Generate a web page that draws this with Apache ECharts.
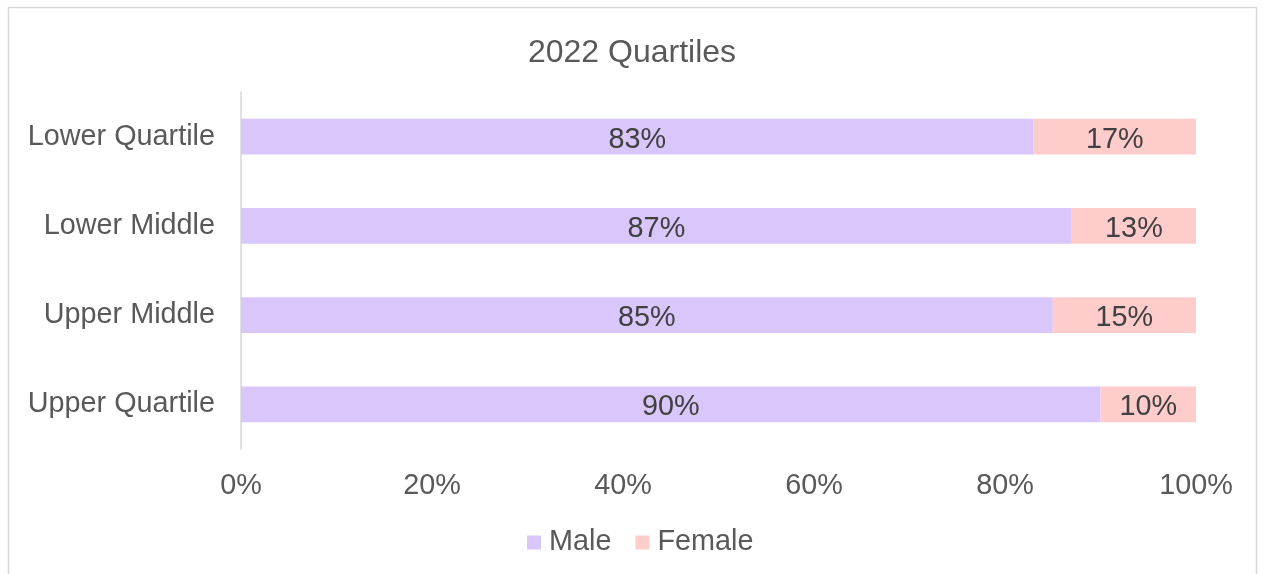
<!DOCTYPE html>
<html>
<head>
<meta charset="utf-8">
<script src="https://cdn.jsdelivr.net/npm/echarts@6/dist/echarts.min.js"></script>
<style>
  html, body { margin: 0; padding: 0; background: #fff; }
  #chart { width: 1264px; height: 574px; }
</style>
</head>
<body>
<div id="chart"></div>
<script>
const categories = ['Lower Quartile', 'Lower Middle', 'Upper Middle', 'Upper Quartile'];
const maleValues = [83, 87, 85, 90];
const femaleValues = [17, 13, 15, 10];
const xTicks = [0, 20, 40, 60, 80, 100];

const chart = echarts.init(document.getElementById('chart'), null, { renderer: 'canvas' });

const textColor = '#595959';
const font = 'Liberation Sans, Arial, sans-serif';
const fs = 28.8;

const option = {
  animation: false,
  textStyle: { fontFamily: font },
  title: {
    text: '2022 Quartiles',
    left: 'center',
    top: 32,
    textStyle: { fontSize: 32, fontWeight: 'normal', color: textColor, fontFamily: font }
  },
  graphic: [{
    type: 'rect',
    shape: { x: 8.5, y: 7.5, width: 1248, height: 600 },
    style: { fill: 'none', stroke: '#d9d9d9', lineWidth: 1.5 },
    silent: true
  }],
  legend: {
    bottom: 12,
    left: 522,
    itemWidth: 14,
    itemHeight: 14,
    itemGap: 24,
    icon: 'rect',
    textStyle: { fontSize: fs, color: textColor, fontFamily: font, padding: [0, 0, 0, 3] },
    data: ['Male', 'Female']
  },
  grid: { left: 241, right: 68, top: 92, bottom: 125 },
  xAxis: {
    type: 'value',
    min: 0,
    max: 100,
    interval: 20,
    axisLine: { show: false },
    axisTick: { show: false },
    splitLine: { show: false },
    axisLabel: {
      margin: 23,
      fontSize: fs,
      color: textColor,
      fontFamily: font,
      formatter: v => (xTicks.includes(v) ? v + '%' : '')
    }
  },
  yAxis: {
    type: 'category',
    inverse: true,
    data: categories,
    axisLine: { show: true, lineStyle: { color: '#d9d9d9', width: 1.5 } },
    axisTick: { show: false },
    axisLabel: { margin: 26, fontSize: fs, color: textColor, fontFamily: font, padding: [6, 0, 0, 0] }
  },
  series: [
    {
      name: 'Male',
      type: 'bar',
      stack: 'total',
      barWidth: '40%',
      data: maleValues,
      itemStyle: { color: '#d9c6fb' },
      label: {
        show: true,
        position: 'inside',
        offset: [0, 3],
        formatter: p => p.value + '%',
        fontSize: fs,
        color: '#404040',
        fontFamily: font
      }
    },
    {
      name: 'Female',
      type: 'bar',
      stack: 'total',
      data: femaleValues,
      itemStyle: { color: '#ffcccc' },
      label: {
        show: true,
        position: 'inside',
        offset: [0, 3],
        formatter: p => p.value + '%',
        fontSize: fs,
        color: '#404040',
        fontFamily: font
      }
    }
  ]
};

chart.setOption(option);
window.addEventListener('resize', chart.resize);
</script>
</body>
</html>
